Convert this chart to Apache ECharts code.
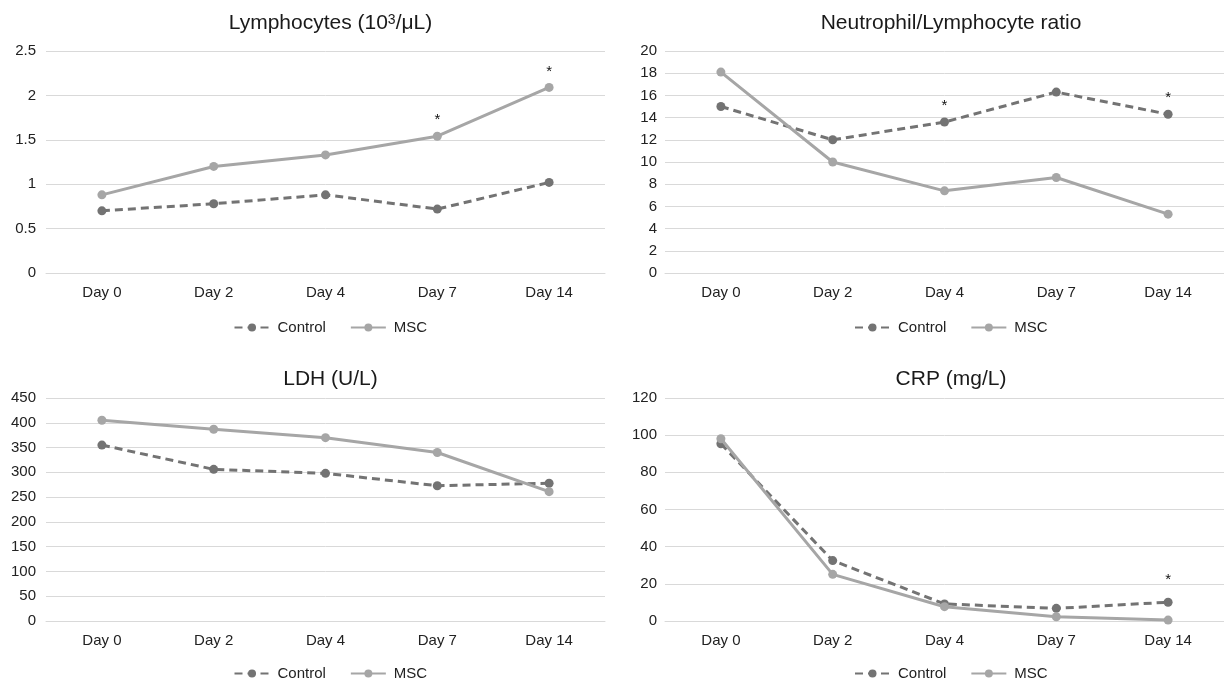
<!DOCTYPE html>
<html>
<head>
<meta charset="utf-8">
<script src="https://cdn.jsdelivr.net/npm/echarts@6/dist/echarts.min.js"></script>
<style>
  html, body { margin: 0; padding: 0; background: #fff; }
  #chart { width: 1224px; height: 682px; }
</style>
</head>
<body>
<div id="chart"></div>
<script>
// data
var days = ["Day 0", "Day 2", "Day 4", "Day 7", "Day 14"];

var lymphControl = [0.70, 0.78, 0.88, 0.72, 1.02];
var lymphMsc = [0.88, 1.20, 1.33, 1.54, 2.09];
var lymphMscSig = [0, 0, 0, 1, 1];

var nlrControl = [15.0, 12.0, 13.6, 16.3, 14.3];
var nlrMsc = [18.1, 10.0, 7.4, 8.6, 5.3];
var nlrControlSig = [0, 0, 1, 0, 1];

var ldhControl = [355, 306, 298, 273, 278];
var ldhMsc = [405, 387, 370, 340, 261];

var crpControl = [95.4, 32.5, 9.2, 6.8, 10.1];
var crpMsc = [98.1, 25.1, 7.7, 2.3, 0.5];
var crpControlSig = [0, 0, 0, 0, 1];

var titles = ["Lymphocytes (10{sup|3}/μL)", "Neutrophil/Lymphocyte ratio", "LDH (U/L)", "CRP (mg/L)"];
var yMax = [2.5, 20, 450, 120];
var yStep = [0.5, 2, 50, 20];

var FONT = "Liberation Sans, Arial, Helvetica, sans-serif";
var CONTROL_COLOR = "#737373";
var MSC_COLOR = "#a6a6a6";

var grids = [
  { left: 46, top: 51, width: 559, height: 222 },
  { left: 665, top: 51, width: 562, height: 222 },
  { left: 46, top: 398, width: 559, height: 223 },
  { left: 665, top: 398, width: 562, height: 223 }
];
var titleTop = [8, 8, 364, 364];
var legendTop = [315, 315, 661, 661];
var labelMargin = [10, 8, 10, 8];
var starDist = [4, 4, 4, 10];

function withStars(values, sig, dist) {
  return values.map(function (v, i) {
    if (!sig || !sig[i]) return v;
    return {
      value: v,
      label: {
        show: true,
        position: "top",
        distance: dist,
        formatter: "*",
        color: "#111",
        fontSize: 15,
        fontFamily: FONT
      }
    };
  });
}

var panels = [
  { control: lymphControl, msc: lymphMsc, controlSig: null, mscSig: lymphMscSig },
  { control: nlrControl, msc: nlrMsc, controlSig: nlrControlSig, mscSig: null },
  { control: ldhControl, msc: ldhMsc, controlSig: null, mscSig: null },
  { control: crpControl, msc: crpMsc, controlSig: crpControlSig, mscSig: null }
];

var option = {
  backgroundColor: "#fff",
  animation: false,
  textStyle: { fontFamily: FONT },
  title: [],
  legend: [],
  grid: grids,
  xAxis: [],
  yAxis: [],
  series: []
};

panels.forEach(function (p, i) {
  var cx = grids[i].left + grids[i].width / 2;
  option.title.push({
    text: titles[i],
    left: cx,
    top: titleTop[i],
    textAlign: "center",
    textStyle: {
      fontSize: 21, fontWeight: "normal", color: "#1a1a1a", fontFamily: FONT,
      rich: {
        sup: { fontSize: 14, color: "#1a1a1a", fontFamily: FONT, verticalAlign: "top", lineHeight: 14 }
      }
    }
  });
  option.legend.push({
    data: ["Control", "MSC"],
    left: cx - 97,
    top: legendTop[i],
    itemWidth: 35,
    itemHeight: 10,
    itemGap: 24,
    selectedMode: false,
    textStyle: { fontSize: 15, color: "#222", fontFamily: FONT, padding: [0, 0, 0, 3] }
  });
  option.xAxis.push({
    type: "category",
    gridIndex: i,
    data: days,
    boundaryGap: true,
    axisLine: { lineStyle: { color: "#d9d9d9", width: 1 } },
    axisTick: { show: false },
    axisLabel: { color: "#222", fontSize: 15, margin: 12, fontFamily: FONT }
  });
  option.yAxis.push({
    type: "value",
    gridIndex: i,
    min: 0,
    max: yMax[i],
    interval: yStep[i],
    axisLine: { show: false },
    axisTick: { show: false },
    splitLine: { lineStyle: { color: "#d9d9d9", width: 1 } },
    axisLabel: { color: "#222", fontSize: 15, margin: labelMargin[i], fontFamily: FONT }
  });
  option.series.push({
    name: "Control",
    type: "line",
    xAxisIndex: i,
    yAxisIndex: i,
    data: withStars(p.control, p.controlSig, starDist[i]),
    symbol: "circle",
    symbolSize: 9,
    color: CONTROL_COLOR,
    itemStyle: { color: CONTROL_COLOR },
    lineStyle: { color: CONTROL_COLOR, width: 3, type: [8, 5] },
    z: 2
  });
  option.series.push({
    name: "MSC",
    type: "line",
    xAxisIndex: i,
    yAxisIndex: i,
    data: withStars(p.msc, p.mscSig, starDist[i]),
    symbol: "circle",
    symbolSize: 9,
    color: MSC_COLOR,
    itemStyle: { color: MSC_COLOR },
    lineStyle: { color: MSC_COLOR, width: 3 },
    z: 3
  });
});

var myChart = echarts.init(document.getElementById("chart"));
myChart.setOption(option);
</script>
</body>
</html>
